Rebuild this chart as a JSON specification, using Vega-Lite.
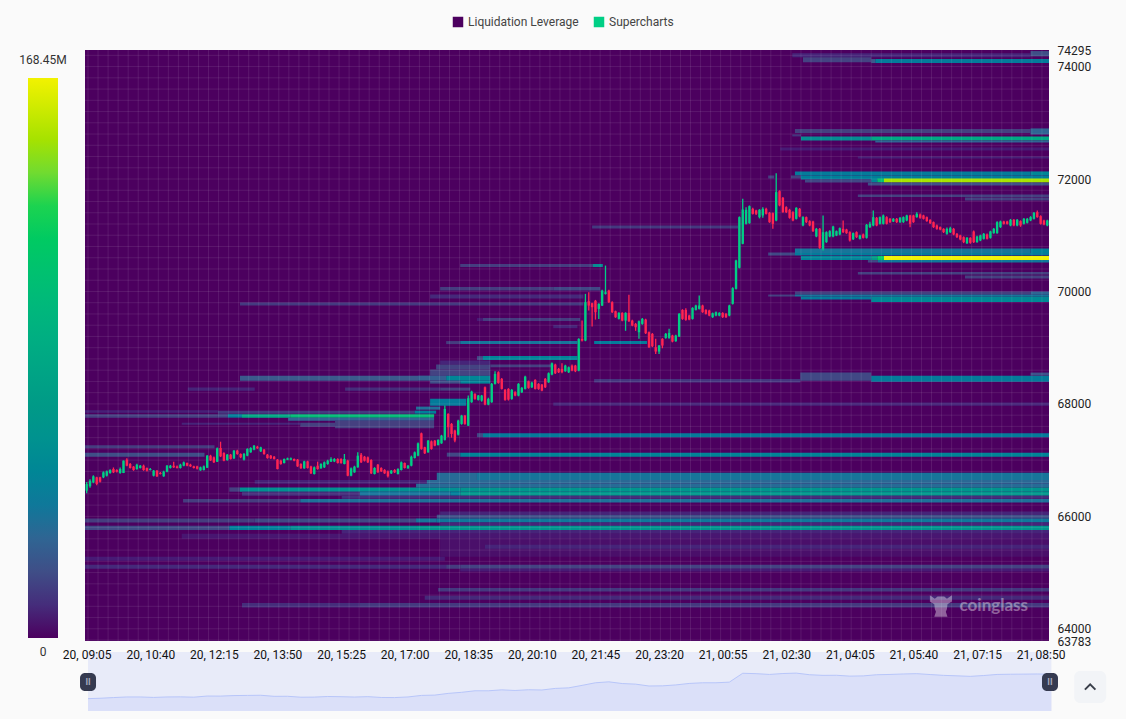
{"$schema":"https://vega.github.io/schema/vega-lite/v6.json","background":"#fafafa","padding":{"left":19,"top":16,"right":19,"bottom":8},"config":{"font":"Roboto","view":{"stroke":null}},"bounds":"flush","spacing":27,"resolve":{"scale":{"fill":"independent"},"legend":{"fill":"independent"}},
"hconcat":[
{"width":30,"height":591,"layer":[
{"data":{"values":[{"v":0,"w":0}]},"mark":{"type":"rect","strokeWidth":0},"encoding":{"y":{"field":"v","type":"quantitative","axis":null,"scale":{"domain":[-0.9,176.87],"nice":false,"zero":false}},"y2":{"field":"w"},
"fill":{"field":"v","type":"quantitative","scale":{"domain":[0,6,15,25,38,55,70,95,130,148,168.45],"range":["#4c005f","#471a75","#454080","#3b5a8c","#17759a","#058d92","#009a87","#0eb37f","#1cd350","#9ee000","#f2f200"]},"legend":{"orient":"none","legendX":0,"legendY":28,"direction":"vertical","title":null,"gradientLength":560,"gradientThickness":30,"gradientStrokeWidth":0,"labelOpacity":0,"labelFontSize":1,"tickCount":2}}}},
{"data":{"values":[{"v":168.45,"label":"168.45M"}]},"mark":{"type":"text","dy":-18,"fontSize":12,"color":"#333"},"encoding":{"y":{"field":"v","type":"quantitative"},"text":{"field":"label"}}},
{"data":{"values":[{"v":0,"label":"0"}]},"mark":{"type":"text","dy":14,"fontSize":12,"color":"#333"},"encoding":{"y":{"field":"v","type":"quantitative"},"text":{"field":"label"}}}
]},
{"bounds":"flush","spacing":11,"vconcat":[
{"width":964,"height":591,"layer":[
{"data":{"values":[{"series":"Liquidation Leverage","start":"20, 09:02","end":"21, 09:03"}],"format":{"parse":{"start":"date:'%d, %H:%M'","end":"date:'%d, %H:%M'"}}},
"mark":{"type":"rect","clip":true,"strokeWidth":0},
"encoding":{"x":{"field":"start","type":"temporal","axis":null,"scale":{"padding":0,"domain":[{"year":1900,"month":1,"date":20,"hours":9,"minutes":2,"seconds":30},{"year":1900,"month":1,"date":21,"hours":9,"minutes":2,"seconds":30}]}},"x2":{"field":"end"},
"color":{"field":"series","type":"nominal","scale":{"domain":["Liquidation Leverage","Supercharts","Decline"],"range":["#4c005f","#00cf85","#ff2452"]},"legend":{"orient":"none","legendX":424,"legendY":-34,"direction":"horizontal","columns":2,"title":null,"symbolType":"square","symbolSize":110,"symbolStrokeWidth":0,"labelFontSize":12,"labelColor":"#444","columnPadding":14,"values":["Liquidation Leverage","Supercharts"]}}}},
{"data":{"values":[
{"start":"21, 02:39","end":"21, 08:35","low":74164,"high":74235,"v":8},
{"start":"21, 08:35","end":"21, 09:03","low":74182,"high":74276,"v":20},
{"start":"21, 02:55","end":"21, 04:37","low":74075,"high":74164,"v":16},
{"start":"21, 04:37","end":"21, 04:43","low":74063,"high":74134,"v":25},
{"start":"21, 04:43","end":"21, 09:03","low":74063,"high":74134,"v":42},
{"start":"21, 02:43","end":"21, 08:35","low":72820,"high":72891,"v":15},
{"start":"21, 08:35","end":"21, 09:03","low":72793,"high":72900,"v":30},
{"start":"21, 02:39","end":"21, 02:52","low":72758,"high":72793,"v":12},
{"start":"21, 02:52","end":"21, 04:37","low":72686,"high":72758,"v":55},
{"start":"21, 04:37","end":"21, 09:03","low":72686,"high":72758,"v":85},
{"start":"21, 04:43","end":"21, 09:03","low":72651,"high":72686,"v":30},
{"start":"21, 02:21","end":"21, 09:03","low":72508,"high":72562,"v":6},
{"start":"21, 04:17","end":"21, 09:03","low":72366,"high":72402,"v":7},
{"start":"21, 02:43","end":"21, 08:35","low":72063,"high":72135,"v":42},
{"start":"21, 08:35","end":"21, 09:03","low":72063,"high":72135,"v":50},
{"start":"21, 02:03","end":"21, 02:12","low":72010,"high":72063,"v":15},
{"start":"21, 02:37","end":"21, 02:52","low":72010,"high":72063,"v":15},
{"start":"21, 02:52","end":"21, 09:03","low":71992,"high":72063,"v":45},
{"start":"21, 02:58","end":"21, 04:37","low":71939,"high":71992,"v":18},
{"start":"21, 04:37","end":"21, 04:46","low":71939,"high":72010,"v":50},
{"start":"21, 04:46","end":"21, 04:56","low":71939,"high":72010,"v":110},
{"start":"21, 04:56","end":"21, 09:03","low":71939,"high":72010,"v":150},
{"start":"21, 04:32","end":"21, 09:03","low":71885,"high":71939,"v":20},
{"start":"21, 04:17","end":"21, 09:03","low":71681,"high":71725,"v":15},
{"start":"21, 06:57","end":"21, 09:03","low":71618,"high":71672,"v":15},
{"start":"20, 21:40","end":"21, 01:18","low":71120,"high":71173,"v":13},
{"start":"21, 02:43","end":"21, 08:35","low":70684,"high":70764,"v":38},
{"start":"21, 08:35","end":"21, 09:03","low":70684,"high":70764,"v":45},
{"start":"21, 02:03","end":"21, 02:43","low":70639,"high":70693,"v":18},
{"start":"21, 02:43","end":"21, 09:03","low":70639,"high":70684,"v":42},
{"start":"21, 02:52","end":"21, 04:37","low":70559,"high":70631,"v":48},
{"start":"21, 04:37","end":"21, 04:46","low":70559,"high":70631,"v":70},
{"start":"21, 04:46","end":"21, 04:56","low":70559,"high":70631,"v":120},
{"start":"21, 04:56","end":"21, 09:03","low":70559,"high":70631,"v":168},
{"start":"21, 04:32","end":"21, 04:47","low":70515,"high":70559,"v":18},
{"start":"21, 04:47","end":"21, 09:03","low":70515,"high":70559,"v":40},
{"start":"20, 18:23","end":"20, 21:41","low":70435,"high":70488,"v":14},
{"start":"20, 21:41","end":"20, 21:56","low":70435,"high":70488,"v":55},
{"start":"21, 04:17","end":"21, 09:03","low":70301,"high":70346,"v":15},
{"start":"21, 06:57","end":"21, 09:03","low":70230,"high":70283,"v":15},
{"start":"20, 17:53","end":"20, 20:42","low":70016,"high":70079,"v":14},
{"start":"20, 20:42","end":"20, 21:52","low":70016,"high":70079,"v":18},
{"start":"21, 02:43","end":"21, 08:35","low":69945,"high":69999,"v":15},
{"start":"21, 08:35","end":"21, 09:03","low":69945,"high":69999,"v":30},
{"start":"21, 02:03","end":"21, 02:43","low":69910,"high":69945,"v":15},
{"start":"21, 02:43","end":"21, 09:03","low":69910,"high":69945,"v":38},
{"start":"21, 02:52","end":"21, 04:37","low":69856,"high":69910,"v":42},
{"start":"21, 04:37","end":"21, 09:03","low":69812,"high":69910,"v":52},
{"start":"20, 17:38","end":"20, 21:27","low":69874,"high":69945,"v":9},
{"start":"20, 12:54","end":"20, 21:27","low":69749,"high":69803,"v":13},
{"start":"20, 18:48","end":"20, 18:57","low":69474,"high":69527,"v":6},
{"start":"20, 18:57","end":"20, 21:22","low":69474,"high":69527,"v":14},
{"start":"20, 20:42","end":"20, 21:18","low":69348,"high":69402,"v":8},
{"start":"20, 18:02","end":"20, 18:23","low":69064,"high":69118,"v":14},
{"start":"20, 18:23","end":"20, 21:18","low":69064,"high":69118,"v":38},
{"start":"20, 21:43","end":"20, 23:02","low":69064,"high":69118,"v":42},
{"start":"20, 18:48","end":"20, 18:57","low":68779,"high":68851,"v":18},
{"start":"20, 18:57","end":"20, 21:18","low":68779,"high":68851,"v":48},
{"start":"20, 17:53","end":"20, 19:08","low":68699,"high":68770,"v":8},
{"start":"20, 17:47","end":"20, 19:08","low":68610,"high":68699,"v":16},
{"start":"20, 19:08","end":"20, 20:42","low":68654,"high":68699,"v":15},
{"start":"20, 17:38","end":"20, 19:08","low":68503,"high":68610,"v":16},
{"start":"20, 12:54","end":"20, 17:20","low":68414,"high":68503,"v":25},
{"start":"20, 17:20","end":"20, 18:02","low":68414,"high":68503,"v":28},
{"start":"20, 18:02","end":"20, 19:08","low":68414,"high":68503,"v":50},
{"start":"20, 17:38","end":"20, 18:23","low":68361,"high":68414,"v":20},
{"start":"20, 18:23","end":"20, 19:08","low":68361,"high":68414,"v":48},
{"start":"20, 21:43","end":"21, 02:51","low":68379,"high":68441,"v":12},
{"start":"21, 02:51","end":"21, 04:37","low":68414,"high":68557,"v":18},
{"start":"21, 04:37","end":"21, 09:03","low":68396,"high":68503,"v":42},
{"start":"21, 08:35","end":"21, 09:03","low":68503,"high":68557,"v":22},
{"start":"20, 11:36","end":"20, 13:16","low":68236,"high":68290,"v":8},
{"start":"20, 15:31","end":"20, 17:53","low":68236,"high":68290,"v":10},
{"start":"20, 17:53","end":"20, 18:38","low":68236,"high":68290,"v":15},
{"start":"20, 17:38","end":"20, 18:32","low":67969,"high":68094,"v":42},
{"start":"20, 17:17","end":"20, 17:53","low":67898,"high":67952,"v":35},
{"start":"20, 20:42","end":"21, 09:03","low":67969,"high":68023,"v":8},
{"start":"20, 09:02","end":"20, 12:21","low":67845,"high":67889,"v":7},
{"start":"20, 12:21","end":"20, 17:15","low":67827,"high":67880,"v":13},
{"start":"20, 17:15","end":"20, 17:47","low":67827,"high":67880,"v":45},
{"start":"20, 09:02","end":"20, 12:21","low":67756,"high":67818,"v":15},
{"start":"20, 12:21","end":"20, 12:36","low":67756,"high":67818,"v":18},
{"start":"20, 12:36","end":"20, 12:57","low":67756,"high":67818,"v":45},
{"start":"20, 12:57","end":"20, 14:09","low":67756,"high":67818,"v":85},
{"start":"20, 14:09","end":"20, 17:44","low":67756,"high":67818,"v":105},
{"start":"20, 14:06","end":"20, 17:44","low":67702,"high":67756,"v":30},
{"start":"20, 11:27","end":"20, 14:24","low":67631,"high":67667,"v":8},
{"start":"20, 14:24","end":"20, 15:16","low":67596,"high":67667,"v":15},
{"start":"20, 15:16","end":"20, 17:44","low":67569,"high":67702,"v":15},
{"start":"20, 18:48","end":"20, 18:57","low":67409,"high":67480,"v":18},
{"start":"20, 18:57","end":"21, 09:03","low":67409,"high":67480,"v":42},
{"start":"20, 09:02","end":"20, 12:16","low":67213,"high":67266,"v":14},
{"start":"20, 09:02","end":"20, 12:01","low":67062,"high":67133,"v":20},
{"start":"20, 18:03","end":"20, 18:23","low":67062,"high":67133,"v":18},
{"start":"20, 18:23","end":"21, 09:03","low":67062,"high":67133,"v":48},
{"start":"20, 17:48","end":"20, 18:48","low":66647,"high":66777,"v":33},
{"start":"20, 18:48","end":"21, 09:03","low":66647,"high":66777,"v":38},
{"start":"20, 13:16","end":"20, 17:33","low":66581,"high":66647,"v":7},
{"start":"20, 17:33","end":"21, 09:03","low":66581,"high":66647,"v":32},
{"start":"20, 17:17","end":"21, 09:03","low":66515,"high":66581,"v":33},
{"start":"20, 12:38","end":"20, 12:54","low":66439,"high":66515,"v":15},
{"start":"20, 12:54","end":"20, 18:23","low":66439,"high":66515,"v":58},
{"start":"20, 18:23","end":"21, 09:03","low":66439,"high":66515,"v":64},
{"start":"20, 12:57","end":"20, 15:53","low":66367,"high":66439,"v":10},
{"start":"20, 15:53","end":"20, 18:08","low":66367,"high":66439,"v":38},
{"start":"20, 18:08","end":"20, 18:23","low":66367,"high":66439,"v":45},
{"start":"20, 18:23","end":"21, 09:03","low":66367,"high":66439,"v":66},
{"start":"20, 15:26","end":"21, 09:03","low":66314,"high":66367,"v":10},
{"start":"20, 11:29","end":"20, 14:24","low":66248,"high":66309,"v":14},
{"start":"20, 14:24","end":"21, 09:03","low":66248,"high":66309,"v":36},
{"start":"20, 17:53","end":"21, 09:03","low":66029,"high":66088,"v":8},
{"start":"20, 17:48","end":"21, 09:03","low":65963,"high":66029,"v":20},
{"start":"20, 09:02","end":"20, 13:16","low":65892,"high":65963,"v":14},
{"start":"20, 13:16","end":"20, 17:17","low":65892,"high":65963,"v":18},
{"start":"20, 17:17","end":"20, 17:48","low":65892,"high":65963,"v":38},
{"start":"20, 17:48","end":"21, 09:03","low":65892,"high":65963,"v":40},
{"start":"20, 17:53","end":"21, 09:03","low":65833,"high":65892,"v":8},
{"start":"20, 09:02","end":"20, 12:38","low":65757,"high":65833,"v":18},
{"start":"20, 12:38","end":"20, 14:09","low":65757,"high":65833,"v":45},
{"start":"20, 14:09","end":"20, 17:17","low":65757,"high":65833,"v":55},
{"start":"20, 17:17","end":"21, 09:03","low":65757,"high":65833,"v":63},
{"start":"20, 15:26","end":"21, 09:03","low":65691,"high":65757,"v":8},
{"start":"20, 11:27","end":"21, 09:03","low":65602,"high":65691,"v":5},
{"start":"20, 17:53","end":"21, 09:03","low":65282,"high":65602,"v":3},
{"start":"20, 19:00","end":"21, 09:03","low":65424,"high":65495,"v":8},
{"start":"20, 09:02","end":"20, 18:00","low":65210,"high":65282,"v":6},
{"start":"20, 09:02","end":"20, 18:02","low":65068,"high":65139,"v":9},
{"start":"20, 18:02","end":"20, 18:23","low":65068,"high":65139,"v":14},
{"start":"20, 18:23","end":"21, 09:03","low":65068,"high":65139,"v":16},
{"start":"20, 18:23","end":"21, 09:03","low":65020,"high":65068,"v":6},
{"start":"20, 17:50","end":"21, 09:03","low":64664,"high":64724,"v":13},
{"start":"20, 17:30","end":"21, 09:03","low":64516,"high":64587,"v":9},
{"start":"20, 12:57","end":"20, 15:53","low":64379,"high":64457,"v":10},
{"start":"20, 15:53","end":"21, 09:03","low":64379,"high":64457,"v":13}
],"format":{"parse":{"start":"date:'%d, %H:%M'","end":"date:'%d, %H:%M'"}}},
"mark":{"type":"rect","clip":true,"strokeWidth":0},
"encoding":{"x":{"field":"start","type":"temporal"},"x2":{"field":"end"},
"y":{"field":"low","type":"quantitative","scale":{"domain":[63783,74295],"nice":false,"zero":false},"axis":{"orient":"right","title":null,"values":[63783,64000,66000,68000,70000,72000,74000,74295],"format":"d","ticks":false,"domain":false,"grid":false,"labelFontSize":12,"labelColor":"#222","labelPadding":8,"labelOverlap":false,"labelBound":false}},"y2":{"field":"high"},
"fill":{"field":"v","type":"quantitative","legend":null,"scale":{"domain":[0,6,15,25,38,55,70,95,130,148,168.45],"range":["#4c005f","#471a75","#454080","#3b5a8c","#17759a","#058d92","#009a87","#0eb37f","#1cd350","#9ee000","#f2f200"]}}}},
{"data":{"values":[{"p":63800},{"p":64000},{"p":64200},{"p":64400},{"p":64600},{"p":64800},{"p":65000},{"p":65200},{"p":65400},{"p":65600},{"p":65800},{"p":66000},{"p":66200},{"p":66400},{"p":66600},{"p":66800},{"p":67000},{"p":67200},{"p":67400},{"p":67600},{"p":67800},{"p":68000},{"p":68200},{"p":68400},{"p":68600},{"p":68800},{"p":69000},{"p":69200},{"p":69400},{"p":69600},{"p":69800},{"p":70000},{"p":70200},{"p":70400},{"p":70600},{"p":70800},{"p":71000},{"p":71200},{"p":71400},{"p":71600},{"p":71800},{"p":72000},{"p":72200},{"p":72400},{"p":72600},{"p":72800},{"p":73000},{"p":73200},{"p":73400},{"p":73600},{"p":73800},{"p":74000},{"p":74200}]},
"mark":{"type":"rule","color":"#ffffff","opacity":0.09,"strokeWidth":1},"encoding":{"y":{"field":"p","type":"quantitative"}}},
{"data":{"values":[{"t":"20, 09:07"},{"t":"20, 09:22"},{"t":"20, 09:37"},{"t":"20, 09:52"},{"t":"20, 10:07"},{"t":"20, 10:22"},{"t":"20, 10:37"},{"t":"20, 10:52"},{"t":"20, 11:07"},{"t":"20, 11:22"},{"t":"20, 11:37"},{"t":"20, 11:52"},{"t":"20, 12:07"},{"t":"20, 12:22"},{"t":"20, 12:37"},{"t":"20, 12:52"},{"t":"20, 13:07"},{"t":"20, 13:22"},{"t":"20, 13:37"},{"t":"20, 13:52"},{"t":"20, 14:07"},{"t":"20, 14:22"},{"t":"20, 14:37"},{"t":"20, 14:52"},{"t":"20, 15:07"},{"t":"20, 15:22"},{"t":"20, 15:37"},{"t":"20, 15:52"},{"t":"20, 16:07"},{"t":"20, 16:22"},{"t":"20, 16:37"},{"t":"20, 16:52"},{"t":"20, 17:07"},{"t":"20, 17:22"},{"t":"20, 17:37"},{"t":"20, 17:52"},{"t":"20, 18:07"},{"t":"20, 18:22"},{"t":"20, 18:37"},{"t":"20, 18:52"},{"t":"20, 19:07"},{"t":"20, 19:22"},{"t":"20, 19:37"},{"t":"20, 19:52"},{"t":"20, 20:07"},{"t":"20, 20:22"},{"t":"20, 20:37"},{"t":"20, 20:52"},{"t":"20, 21:07"},{"t":"20, 21:22"},{"t":"20, 21:37"},{"t":"20, 21:52"},{"t":"20, 22:07"},{"t":"20, 22:22"},{"t":"20, 22:37"},{"t":"20, 22:52"},{"t":"20, 23:07"},{"t":"20, 23:22"},{"t":"20, 23:37"},{"t":"20, 23:52"},{"t":"21, 00:07"},{"t":"21, 00:22"},{"t":"21, 00:37"},{"t":"21, 00:52"},{"t":"21, 01:07"},{"t":"21, 01:22"},{"t":"21, 01:37"},{"t":"21, 01:52"},{"t":"21, 02:07"},{"t":"21, 02:22"},{"t":"21, 02:37"},{"t":"21, 02:52"},{"t":"21, 03:07"},{"t":"21, 03:22"},{"t":"21, 03:37"},{"t":"21, 03:52"},{"t":"21, 04:07"},{"t":"21, 04:22"},{"t":"21, 04:37"},{"t":"21, 04:52"},{"t":"21, 05:07"},{"t":"21, 05:22"},{"t":"21, 05:37"},{"t":"21, 05:52"},{"t":"21, 06:07"},{"t":"21, 06:22"},{"t":"21, 06:37"},{"t":"21, 06:52"},{"t":"21, 07:07"},{"t":"21, 07:22"},{"t":"21, 07:37"},{"t":"21, 07:52"},{"t":"21, 08:07"},{"t":"21, 08:22"},{"t":"21, 08:37"},{"t":"21, 08:52"}],"format":{"parse":{"t":"date:'%d, %H:%M'"}}},
"mark":{"type":"rule","color":"#ffffff","opacity":0.09,"strokeWidth":1},"encoding":{"x":{"field":"t","type":"temporal"}}},
{"data":{"values":[
{"t":"20, 09:05","o":66457,"h":66610,"l":66410,"c":66575,"s":"Supercharts"},
{"t":"20, 09:10","o":66534,"h":66660,"l":66510,"c":66634,"s":"Supercharts"},
{"t":"20, 09:15","o":66605,"h":66730,"l":66590,"c":66712,"s":"Supercharts"},
{"t":"20, 09:20","o":66694,"h":66705,"l":66555,"c":66575,"s":"Decline"},
{"t":"20, 09:25","o":66694,"h":66705,"l":66600,"c":66616,"s":"Decline"},
{"t":"20, 09:30","o":66694,"h":66800,"l":66680,"c":66783,"s":"Supercharts"},
{"t":"20, 09:35","o":66723,"h":66815,"l":66710,"c":66800,"s":"Supercharts"},
{"t":"20, 09:40","o":66771,"h":66840,"l":66760,"c":66824,"s":"Supercharts"},
{"t":"20, 09:45","o":66842,"h":66870,"l":66770,"c":66783,"s":"Decline"},
{"t":"20, 09:50","o":66824,"h":66840,"l":66780,"c":66795,"s":"Decline"},
{"t":"20, 09:55","o":66771,"h":66870,"l":66760,"c":66842,"s":"Supercharts"},
{"t":"20, 10:00","o":66771,"h":66995,"l":66770,"c":66990,"s":"Supercharts"},
{"t":"20, 10:05","o":67008,"h":67035,"l":66890,"c":66901,"s":"Decline"},
{"t":"20, 10:10","o":66931,"h":66950,"l":66850,"c":66860,"s":"Decline"},
{"t":"20, 10:15","o":66884,"h":66895,"l":66810,"c":66824,"s":"Decline"},
{"t":"20, 10:20","o":66842,"h":66935,"l":66830,"c":66919,"s":"Supercharts"},
{"t":"20, 10:25","o":66860,"h":66915,"l":66850,"c":66901,"s":"Supercharts"},
{"t":"20, 10:30","o":66901,"h":66920,"l":66810,"c":66824,"s":"Decline"},
{"t":"20, 10:35","o":66860,"h":66870,"l":66800,"c":66812,"s":"Decline"},
{"t":"20, 10:40","o":66824,"h":66860,"l":66815,"c":66842,"s":"Supercharts"},
{"t":"20, 10:45","o":66723,"h":66825,"l":66710,"c":66812,"s":"Supercharts"},
{"t":"20, 10:50","o":66812,"h":66825,"l":66700,"c":66712,"s":"Decline"},
{"t":"20, 10:55","o":66771,"h":66790,"l":66745,"c":66753,"s":"Decline"},
{"t":"20, 11:00","o":66712,"h":66810,"l":66705,"c":66795,"s":"Supercharts"},
{"t":"20, 11:05","o":66795,"h":66915,"l":66785,"c":66901,"s":"Supercharts"},
{"t":"20, 11:10","o":66860,"h":66915,"l":66850,"c":66901,"s":"Supercharts"},
{"t":"20, 11:15","o":66901,"h":66972,"l":66860,"c":66872,"s":"Decline"},
{"t":"20, 11:20","o":66889,"h":66905,"l":66850,"c":66860,"s":"Decline"},
{"t":"20, 11:25","o":66860,"h":66935,"l":66850,"c":66919,"s":"Supercharts"},
{"t":"20, 11:30","o":66901,"h":66975,"l":66890,"c":66961,"s":"Supercharts"},
{"t":"20, 11:35","o":66949,"h":66960,"l":66890,"c":66901,"s":"Decline"},
{"t":"20, 11:40","o":66919,"h":66935,"l":66880,"c":66889,"s":"Decline"},
{"t":"20, 11:45","o":66889,"h":66900,"l":66850,"c":66860,"s":"Decline"},
{"t":"20, 11:50","o":66889,"h":66900,"l":66835,"c":66848,"s":"Decline"},
{"t":"20, 11:55","o":66818,"h":66885,"l":66810,"c":66872,"s":"Supercharts"},
{"t":"20, 12:00","o":66824,"h":66905,"l":66815,"c":66889,"s":"Supercharts"},
{"t":"20, 12:05","o":66865,"h":67090,"l":66860,"c":67079,"s":"Supercharts"},
{"t":"20, 12:10","o":67079,"h":67095,"l":66985,"c":66996,"s":"Decline"},
{"t":"20, 12:15","o":67050,"h":67065,"l":66950,"c":66961,"s":"Decline"},
{"t":"20, 12:20","o":66972,"h":67225,"l":66965,"c":67210,"s":"Supercharts"},
{"t":"20, 12:25","o":67216,"h":67328,"l":67055,"c":67067,"s":"Decline"},
{"t":"20, 12:30","o":67127,"h":67140,"l":66980,"c":66990,"s":"Decline"},
{"t":"20, 12:35","o":67002,"h":67110,"l":66990,"c":67097,"s":"Supercharts"},
{"t":"20, 12:40","o":67097,"h":67110,"l":67010,"c":67020,"s":"Decline"},
{"t":"20, 12:45","o":67032,"h":67180,"l":67020,"c":67168,"s":"Supercharts"},
{"t":"20, 12:50","o":67168,"h":67185,"l":67095,"c":67109,"s":"Decline"},
{"t":"20, 12:55","o":67109,"h":67120,"l":67035,"c":67050,"s":"Decline"},
{"t":"20, 13:00","o":67008,"h":67125,"l":66995,"c":67109,"s":"Supercharts"},
{"t":"20, 13:05","o":67079,"h":67210,"l":67070,"c":67198,"s":"Supercharts"},
{"t":"20, 13:10","o":67139,"h":67230,"l":67130,"c":67216,"s":"Supercharts"},
{"t":"20, 13:15","o":67186,"h":67270,"l":67175,"c":67257,"s":"Supercharts"},
{"t":"20, 13:20","o":67239,"h":67255,"l":67200,"c":67210,"s":"Decline"},
{"t":"20, 13:25","o":67156,"h":67240,"l":67145,"c":67227,"s":"Supercharts"},
{"t":"20, 13:30","o":67186,"h":67200,"l":67095,"c":67109,"s":"Decline"},
{"t":"20, 13:35","o":67097,"h":67110,"l":67025,"c":67038,"s":"Decline"},
{"t":"20, 13:40","o":67079,"h":67090,"l":67020,"c":67032,"s":"Decline"},
{"t":"20, 13:45","o":67061,"h":67075,"l":67010,"c":67020,"s":"Decline"},
{"t":"20, 13:50","o":67008,"h":67020,"l":66835,"c":66842,"s":"Decline"},
{"t":"20, 13:55","o":66990,"h":67005,"l":66920,"c":66931,"s":"Decline"},
{"t":"20, 14:00","o":66949,"h":67030,"l":66940,"c":67020,"s":"Supercharts"},
{"t":"20, 14:05","o":67008,"h":67045,"l":67000,"c":67032,"s":"Supercharts"},
{"t":"20, 14:10","o":67008,"h":67045,"l":67000,"c":67032,"s":"Supercharts"},
{"t":"20, 14:15","o":67020,"h":67030,"l":66980,"c":66990,"s":"Decline"},
{"t":"20, 14:20","o":67008,"h":67020,"l":66880,"c":66889,"s":"Decline"},
{"t":"20, 14:25","o":66931,"h":66945,"l":66845,"c":66854,"s":"Decline"},
{"t":"20, 14:30","o":66854,"h":66990,"l":66845,"c":66978,"s":"Supercharts"},
{"t":"20, 14:35","o":66978,"h":66990,"l":66850,"c":66860,"s":"Decline"},
{"t":"20, 14:40","o":66889,"h":66900,"l":66755,"c":66765,"s":"Decline"},
{"t":"20, 14:45","o":66753,"h":66885,"l":66745,"c":66872,"s":"Supercharts"},
{"t":"20, 14:50","o":66901,"h":66973,"l":66830,"c":66842,"s":"Decline"},
{"t":"20, 14:55","o":66854,"h":66945,"l":66845,"c":66931,"s":"Supercharts"},
{"t":"20, 15:00","o":66872,"h":66975,"l":66860,"c":66961,"s":"Supercharts"},
{"t":"20, 15:05","o":66931,"h":67005,"l":66920,"c":66990,"s":"Supercharts"},
{"t":"20, 15:10","o":66973,"h":67050,"l":66965,"c":67020,"s":"Supercharts"},
{"t":"20, 15:15","o":66978,"h":67035,"l":66965,"c":67020,"s":"Supercharts"},
{"t":"20, 15:20","o":67020,"h":67032,"l":66940,"c":66949,"s":"Decline"},
{"t":"20, 15:25","o":67020,"h":67032,"l":66935,"c":66949,"s":"Decline"},
{"t":"20, 15:30","o":66931,"h":67109,"l":66925,"c":67020,"s":"Supercharts"},
{"t":"20, 15:35","o":66990,"h":67005,"l":66712,"c":66723,"s":"Decline"},
{"t":"20, 15:40","o":66723,"h":66870,"l":66712,"c":66854,"s":"Supercharts"},
{"t":"20, 15:45","o":66783,"h":66900,"l":66775,"c":66884,"s":"Supercharts"},
{"t":"20, 15:50","o":66872,"h":67139,"l":66865,"c":67079,"s":"Supercharts"},
{"t":"20, 15:55","o":67097,"h":67125,"l":66950,"c":66961,"s":"Decline"},
{"t":"20, 16:00","o":67061,"h":67075,"l":66975,"c":66990,"s":"Decline"},
{"t":"20, 16:05","o":67050,"h":67065,"l":66950,"c":66961,"s":"Decline"},
{"t":"20, 16:10","o":67002,"h":67015,"l":66755,"c":66765,"s":"Decline"},
{"t":"20, 16:15","o":66753,"h":66875,"l":66745,"c":66860,"s":"Supercharts"},
{"t":"20, 16:20","o":66919,"h":66930,"l":66775,"c":66783,"s":"Decline"},
{"t":"20, 16:25","o":66860,"h":66875,"l":66790,"c":66801,"s":"Decline"},
{"t":"20, 16:30","o":66824,"h":66840,"l":66755,"c":66765,"s":"Decline"},
{"t":"20, 16:35","o":66801,"h":66815,"l":66690,"c":66712,"s":"Decline"},
{"t":"20, 16:40","o":66765,"h":66825,"l":66755,"c":66812,"s":"Supercharts"},
{"t":"20, 16:45","o":66824,"h":66840,"l":66770,"c":66783,"s":"Decline"},
{"t":"20, 16:50","o":66753,"h":66855,"l":66745,"c":66842,"s":"Supercharts"},
{"t":"20, 16:55","o":66824,"h":66975,"l":66815,"c":66961,"s":"Supercharts"},
{"t":"20, 17:00","o":66949,"h":66960,"l":66850,"c":66860,"s":"Decline"},
{"t":"20, 17:05","o":66854,"h":66915,"l":66845,"c":66901,"s":"Supercharts"},
{"t":"20, 17:10","o":66901,"h":67080,"l":66890,"c":67061,"s":"Supercharts"},
{"t":"20, 17:15","o":67038,"h":67155,"l":67030,"c":67139,"s":"Supercharts"},
{"t":"20, 17:20","o":67079,"h":67315,"l":67070,"c":67299,"s":"Supercharts"},
{"t":"20, 17:25","o":67477,"h":67490,"l":67185,"c":67198,"s":"Decline"},
{"t":"20, 17:30","o":67228,"h":67240,"l":67110,"c":67121,"s":"Decline"},
{"t":"20, 17:35","o":67139,"h":67360,"l":67130,"c":67346,"s":"Supercharts"},
{"t":"20, 17:40","o":67334,"h":67350,"l":67185,"c":67198,"s":"Decline"},
{"t":"20, 17:45","o":67346,"h":67360,"l":67245,"c":67257,"s":"Decline"},
{"t":"20, 17:50","o":67269,"h":67370,"l":67260,"c":67358,"s":"Supercharts"},
{"t":"20, 17:55","o":67299,"h":67450,"l":67290,"c":67435,"s":"Supercharts"},
{"t":"20, 18:00","o":67360,"h":67970,"l":67350,"c":67911,"s":"Supercharts"},
{"t":"20, 18:05","o":67822,"h":67835,"l":67407,"c":67585,"s":"Decline"},
{"t":"20, 18:10","o":67644,"h":67660,"l":67400,"c":67466,"s":"Decline"},
{"t":"20, 18:15","o":67526,"h":67540,"l":67320,"c":67348,"s":"Decline"},
{"t":"20, 18:20","o":67454,"h":67720,"l":67440,"c":67703,"s":"Supercharts"},
{"t":"20, 18:25","o":67644,"h":67805,"l":67630,"c":67792,"s":"Supercharts"},
{"t":"20, 18:30","o":67792,"h":67805,"l":67630,"c":67644,"s":"Decline"},
{"t":"20, 18:35","o":67614,"h":68150,"l":67605,"c":68101,"s":"Supercharts"},
{"t":"20, 18:40","o":68030,"h":68235,"l":68020,"c":68219,"s":"Supercharts"},
{"t":"20, 18:45","o":68178,"h":68190,"l":68075,"c":68089,"s":"Decline"},
{"t":"20, 18:50","o":68071,"h":68160,"l":68060,"c":68148,"s":"Supercharts"},
{"t":"20, 18:55","o":68059,"h":68160,"l":68040,"c":68148,"s":"Supercharts"},
{"t":"20, 19:00","o":68296,"h":68310,"l":67975,"c":67988,"s":"Decline"},
{"t":"20, 19:05","o":67988,"h":68110,"l":67975,"c":68089,"s":"Supercharts"},
{"t":"20, 19:10","o":68030,"h":68370,"l":68020,"c":68356,"s":"Supercharts"},
{"t":"20, 19:15","o":68356,"h":68580,"l":68345,"c":68534,"s":"Supercharts"},
{"t":"20, 19:20","o":68563,"h":68580,"l":68360,"c":68374,"s":"Decline"},
{"t":"20, 19:25","o":68445,"h":68460,"l":68255,"c":68267,"s":"Decline"},
{"t":"20, 19:30","o":68249,"h":68265,"l":68055,"c":68071,"s":"Decline"},
{"t":"20, 19:35","o":68267,"h":68280,"l":68060,"c":68077,"s":"Decline"},
{"t":"20, 19:40","o":68089,"h":68265,"l":68075,"c":68249,"s":"Supercharts"},
{"t":"20, 19:45","o":68207,"h":68225,"l":68135,"c":68148,"s":"Decline"},
{"t":"20, 19:50","o":68148,"h":68370,"l":68135,"c":68356,"s":"Supercharts"},
{"t":"20, 19:55","o":68207,"h":68300,"l":68195,"c":68285,"s":"Supercharts"},
{"t":"20, 20:00","o":68267,"h":68500,"l":68255,"c":68486,"s":"Supercharts"},
{"t":"20, 20:05","o":68403,"h":68415,"l":68270,"c":68285,"s":"Decline"},
{"t":"20, 20:10","o":68296,"h":68395,"l":68285,"c":68379,"s":"Supercharts"},
{"t":"20, 20:15","o":68427,"h":68440,"l":68255,"c":68267,"s":"Decline"},
{"t":"20, 20:20","o":68356,"h":68370,"l":68250,"c":68267,"s":"Decline"},
{"t":"20, 20:25","o":68344,"h":68355,"l":68225,"c":68237,"s":"Decline"},
{"t":"20, 20:30","o":68445,"h":68460,"l":68285,"c":68296,"s":"Decline"},
{"t":"20, 20:35","o":68385,"h":68560,"l":68375,"c":68545,"s":"Supercharts"},
{"t":"20, 20:40","o":68522,"h":68735,"l":68510,"c":68723,"s":"Supercharts"},
{"t":"20, 20:45","o":68700,"h":68715,"l":68530,"c":68545,"s":"Decline"},
{"t":"20, 20:50","o":68623,"h":68640,"l":68550,"c":68563,"s":"Decline"},
{"t":"20, 20:55","o":68623,"h":68723,"l":68545,"c":68563,"s":"Decline"},
{"t":"20, 21:00","o":68581,"h":68695,"l":68570,"c":68682,"s":"Supercharts"},
{"t":"20, 21:05","o":68563,"h":68665,"l":68550,"c":68652,"s":"Supercharts"},
{"t":"20, 21:10","o":68682,"h":68700,"l":68580,"c":68593,"s":"Decline"},
{"t":"20, 21:15","o":68682,"h":68695,"l":68565,"c":68581,"s":"Decline"},
{"t":"20, 21:20","o":68593,"h":69170,"l":68580,"c":69156,"s":"Supercharts"},
{"t":"20, 21:25","o":69156,"h":69482,"l":69110,"c":69127,"s":"Decline"},
{"t":"20, 21:30","o":69127,"h":69957,"l":69115,"c":69809,"s":"Supercharts"},
{"t":"20, 21:35","o":69826,"h":69985,"l":69660,"c":69749,"s":"Decline"},
{"t":"20, 21:40","o":69791,"h":69800,"l":69375,"c":69720,"s":"Decline"},
{"t":"20, 21:45","o":69835,"h":69850,"l":69500,"c":69631,"s":"Decline"},
{"t":"20, 21:50","o":69690,"h":69790,"l":69512,"c":69779,"s":"Supercharts"},
{"t":"20, 21:55","o":69749,"h":70030,"l":69740,"c":70016,"s":"Supercharts"},
{"t":"20, 22:00","o":69957,"h":70461,"l":69945,"c":69986,"s":"Supercharts"},
{"t":"20, 22:05","o":70016,"h":70030,"l":69795,"c":69809,"s":"Decline"},
{"t":"20, 22:10","o":69809,"h":69825,"l":69615,"c":69631,"s":"Decline"},
{"t":"20, 22:15","o":69649,"h":69660,"l":69530,"c":69542,"s":"Decline"},
{"t":"20, 22:20","o":69512,"h":69630,"l":69500,"c":69619,"s":"Supercharts"},
{"t":"20, 22:25","o":69619,"h":69630,"l":69470,"c":69482,"s":"Decline"},
{"t":"20, 22:30","o":69482,"h":69630,"l":69300,"c":69619,"s":"Supercharts"},
{"t":"20, 22:35","o":69619,"h":69940,"l":69455,"c":69471,"s":"Decline"},
{"t":"20, 22:40","o":69482,"h":69495,"l":69380,"c":69393,"s":"Decline"},
{"t":"20, 22:45","o":69423,"h":69440,"l":69300,"c":69364,"s":"Decline"},
{"t":"20, 22:50","o":69275,"h":69485,"l":69160,"c":69471,"s":"Supercharts"},
{"t":"20, 22:55","o":69424,"h":69530,"l":69410,"c":69512,"s":"Supercharts"},
{"t":"20, 23:00","o":69500,"h":69515,"l":69245,"c":69257,"s":"Decline"},
{"t":"20, 23:05","o":69275,"h":69290,"l":68995,"c":69008,"s":"Decline"},
{"t":"20, 23:10","o":69246,"h":69260,"l":69010,"c":69026,"s":"Decline"},
{"t":"20, 23:15","o":69008,"h":69157,"l":68890,"c":68931,"s":"Decline"},
{"t":"20, 23:20","o":68931,"h":69050,"l":68890,"c":69038,"s":"Supercharts"},
{"t":"20, 23:25","o":69157,"h":69170,"l":68990,"c":69038,"s":"Decline"},
{"t":"20, 23:30","o":69174,"h":69260,"l":69160,"c":69246,"s":"Supercharts"},
{"t":"20, 23:35","o":69174,"h":69335,"l":69160,"c":69263,"s":"Supercharts"},
{"t":"20, 23:40","o":69216,"h":69230,"l":69095,"c":69109,"s":"Decline"},
{"t":"20, 23:45","o":69115,"h":69230,"l":69105,"c":69216,"s":"Supercharts"},
{"t":"20, 23:50","o":69198,"h":69615,"l":69190,"c":69601,"s":"Supercharts"},
{"t":"20, 23:55","o":69672,"h":69685,"l":69495,"c":69512,"s":"Decline"},
{"t":"21, 00:00","o":69672,"h":69700,"l":69480,"c":69495,"s":"Decline"},
{"t":"21, 00:05","o":69572,"h":69585,"l":69490,"c":69500,"s":"Decline"},
{"t":"21, 00:10","o":69512,"h":69720,"l":69500,"c":69708,"s":"Supercharts"},
{"t":"21, 00:15","o":69672,"h":69765,"l":69660,"c":69750,"s":"Supercharts"},
{"t":"21, 00:20","o":69690,"h":69927,"l":69680,"c":69750,"s":"Supercharts"},
{"t":"21, 00:25","o":69750,"h":69765,"l":69620,"c":69631,"s":"Decline"},
{"t":"21, 00:30","o":69672,"h":69685,"l":69590,"c":69601,"s":"Decline"},
{"t":"21, 00:35","o":69661,"h":69675,"l":69560,"c":69572,"s":"Decline"},
{"t":"21, 00:40","o":69542,"h":69625,"l":69530,"c":69613,"s":"Supercharts"},
{"t":"21, 00:45","o":69572,"h":69645,"l":69560,"c":69631,"s":"Supercharts"},
{"t":"21, 00:50","o":69572,"h":69630,"l":69560,"c":69619,"s":"Supercharts"},
{"t":"21, 00:55","o":69619,"h":69630,"l":69530,"c":69542,"s":"Decline"},
{"t":"21, 01:00","o":69601,"h":69615,"l":69530,"c":69542,"s":"Decline"},
{"t":"21, 01:05","o":69572,"h":69765,"l":69560,"c":69750,"s":"Supercharts"},
{"t":"21, 01:10","o":69780,"h":70075,"l":69770,"c":70059,"s":"Supercharts"},
{"t":"21, 01:15","o":70047,"h":70565,"l":70035,"c":70551,"s":"Supercharts"},
{"t":"21, 01:20","o":70421,"h":71335,"l":70410,"c":71322,"s":"Supercharts"},
{"t":"21, 01:25","o":70848,"h":71648,"l":70840,"c":71458,"s":"Supercharts"},
{"t":"21, 01:30","o":71203,"h":71500,"l":71190,"c":71452,"s":"Supercharts"},
{"t":"21, 01:35","o":71215,"h":71530,"l":71205,"c":71518,"s":"Supercharts"},
{"t":"21, 01:40","o":71470,"h":71490,"l":71370,"c":71381,"s":"Decline"},
{"t":"21, 01:45","o":71441,"h":71455,"l":71360,"c":71381,"s":"Decline"},
{"t":"21, 01:50","o":71322,"h":71465,"l":71300,"c":71452,"s":"Supercharts"},
{"t":"21, 01:55","o":71352,"h":71500,"l":71310,"c":71470,"s":"Supercharts"},
{"t":"21, 02:00","o":71470,"h":71490,"l":71370,"c":71381,"s":"Decline"},
{"t":"21, 02:05","o":71399,"h":71415,"l":71220,"c":71233,"s":"Decline"},
{"t":"21, 02:10","o":71393,"h":71405,"l":71115,"c":71203,"s":"Decline"},
{"t":"21, 02:15","o":71263,"h":72105,"l":71250,"c":71767,"s":"Supercharts"},
{"t":"21, 02:20","o":71784,"h":71800,"l":71515,"c":71530,"s":"Decline"},
{"t":"21, 02:25","o":71666,"h":71680,"l":71400,"c":71411,"s":"Decline"},
{"t":"21, 02:30","o":71500,"h":71515,"l":71395,"c":71411,"s":"Decline"},
{"t":"21, 02:35","o":71452,"h":71470,"l":71295,"c":71310,"s":"Decline"},
{"t":"21, 02:40","o":71411,"h":71425,"l":71250,"c":71263,"s":"Decline"},
{"t":"21, 02:45","o":71292,"h":71500,"l":71280,"c":71488,"s":"Supercharts"},
{"t":"21, 02:50","o":71470,"h":71485,"l":71320,"c":71334,"s":"Decline"},
{"t":"21, 02:55","o":71174,"h":71340,"l":71160,"c":71322,"s":"Supercharts"},
{"t":"21, 03:00","o":71322,"h":71335,"l":71220,"c":71233,"s":"Decline"},
{"t":"21, 03:05","o":71251,"h":71265,"l":71160,"c":71174,"s":"Decline"},
{"t":"21, 03:10","o":71245,"h":71260,"l":71060,"c":71073,"s":"Decline"},
{"t":"21, 03:15","o":70978,"h":71130,"l":70965,"c":71114,"s":"Supercharts"},
{"t":"21, 03:20","o":71114,"h":71130,"l":70760,"c":70776,"s":"Decline"},
{"t":"21, 03:25","o":70759,"h":71352,"l":70730,"c":71055,"s":"Supercharts"},
{"t":"21, 03:30","o":70877,"h":71070,"l":70865,"c":71055,"s":"Supercharts"},
{"t":"21, 03:35","o":70978,"h":71090,"l":70965,"c":71073,"s":"Supercharts"},
{"t":"21, 03:40","o":70978,"h":71170,"l":70965,"c":71156,"s":"Supercharts"},
{"t":"21, 03:45","o":70996,"h":71085,"l":70985,"c":71073,"s":"Supercharts"},
{"t":"21, 03:50","o":71014,"h":71140,"l":71000,"c":71126,"s":"Supercharts"},
{"t":"21, 03:55","o":71114,"h":71263,"l":71040,"c":71055,"s":"Decline"},
{"t":"21, 04:00","o":71102,"h":71115,"l":71025,"c":71037,"s":"Decline"},
{"t":"21, 04:05","o":71055,"h":71070,"l":70890,"c":70907,"s":"Decline"},
{"t":"21, 04:10","o":70930,"h":71050,"l":70915,"c":71037,"s":"Supercharts"},
{"t":"21, 04:15","o":71055,"h":71070,"l":70950,"c":70966,"s":"Decline"},
{"t":"21, 04:20","o":70936,"h":71010,"l":70925,"c":70996,"s":"Supercharts"},
{"t":"21, 04:25","o":71014,"h":71030,"l":70940,"c":70954,"s":"Decline"},
{"t":"21, 04:30","o":70954,"h":71200,"l":70940,"c":71186,"s":"Supercharts"},
{"t":"21, 04:35","o":71144,"h":71240,"l":71130,"c":71203,"s":"Supercharts"},
{"t":"21, 04:40","o":71174,"h":71440,"l":71160,"c":71322,"s":"Supercharts"},
{"t":"21, 04:45","o":71310,"h":71325,"l":71160,"c":71174,"s":"Decline"},
{"t":"21, 04:50","o":71203,"h":71335,"l":71190,"c":71322,"s":"Supercharts"},
{"t":"21, 04:55","o":71203,"h":71370,"l":71190,"c":71352,"s":"Supercharts"},
{"t":"21, 05:00","o":71322,"h":71340,"l":71190,"c":71203,"s":"Decline"},
{"t":"21, 05:05","o":71292,"h":71305,"l":71220,"c":71233,"s":"Decline"},
{"t":"21, 05:10","o":71245,"h":71305,"l":71235,"c":71292,"s":"Supercharts"},
{"t":"21, 05:15","o":71292,"h":71305,"l":71220,"c":71233,"s":"Decline"},
{"t":"21, 05:20","o":71233,"h":71325,"l":71220,"c":71310,"s":"Supercharts"},
{"t":"21, 05:25","o":71233,"h":71335,"l":71220,"c":71322,"s":"Supercharts"},
{"t":"21, 05:30","o":71263,"h":71365,"l":71250,"c":71352,"s":"Supercharts"},
{"t":"21, 05:35","o":71352,"h":71365,"l":71144,"c":71203,"s":"Decline"},
{"t":"21, 05:40","o":71352,"h":71365,"l":71220,"c":71233,"s":"Decline"},
{"t":"21, 05:45","o":71322,"h":71411,"l":71310,"c":71381,"s":"Supercharts"},
{"t":"21, 05:50","o":71369,"h":71385,"l":71295,"c":71310,"s":"Decline"},
{"t":"21, 05:55","o":71352,"h":71365,"l":71280,"c":71292,"s":"Decline"},
{"t":"21, 06:00","o":71322,"h":71335,"l":71240,"c":71251,"s":"Decline"},
{"t":"21, 06:05","o":71274,"h":71285,"l":71200,"c":71215,"s":"Decline"},
{"t":"21, 06:10","o":71233,"h":71245,"l":71130,"c":71144,"s":"Decline"},
{"t":"21, 06:15","o":71174,"h":71190,"l":71100,"c":71114,"s":"Decline"},
{"t":"21, 06:20","o":71144,"h":71155,"l":71090,"c":71102,"s":"Decline"},
{"t":"21, 06:25","o":71114,"h":71125,"l":71040,"c":71055,"s":"Decline"},
{"t":"21, 06:30","o":71025,"h":71140,"l":71010,"c":71114,"s":"Supercharts"},
{"t":"21, 06:35","o":71055,"h":71150,"l":71040,"c":71126,"s":"Supercharts"},
{"t":"21, 06:40","o":71114,"h":71130,"l":71000,"c":71014,"s":"Decline"},
{"t":"21, 06:45","o":71025,"h":71040,"l":70950,"c":70966,"s":"Decline"},
{"t":"21, 06:50","o":70996,"h":71010,"l":70910,"c":70925,"s":"Decline"},
{"t":"21, 06:55","o":70966,"h":70980,"l":70860,"c":70877,"s":"Decline"},
{"t":"21, 07:00","o":70859,"h":70970,"l":70845,"c":70954,"s":"Supercharts"},
{"t":"21, 07:05","o":70954,"h":70965,"l":70850,"c":70865,"s":"Decline"},
{"t":"21, 07:10","o":71067,"h":71085,"l":70860,"c":70877,"s":"Decline"},
{"t":"21, 07:15","o":70877,"h":70990,"l":70865,"c":70978,"s":"Supercharts"},
{"t":"21, 07:20","o":70907,"h":71010,"l":70895,"c":70996,"s":"Supercharts"},
{"t":"21, 07:25","o":70936,"h":71040,"l":70925,"c":71025,"s":"Supercharts"},
{"t":"21, 07:30","o":71014,"h":71030,"l":70925,"c":70936,"s":"Decline"},
{"t":"21, 07:35","o":70954,"h":71080,"l":70940,"c":71067,"s":"Supercharts"},
{"t":"21, 07:40","o":71037,"h":71130,"l":71025,"c":71114,"s":"Supercharts"},
{"t":"21, 07:45","o":71037,"h":71250,"l":71025,"c":71233,"s":"Supercharts"},
{"t":"21, 07:50","o":71144,"h":71260,"l":71130,"c":71245,"s":"Supercharts"},
{"t":"21, 07:55","o":71245,"h":71260,"l":71190,"c":71203,"s":"Decline"},
{"t":"21, 08:00","o":71245,"h":71260,"l":71190,"c":71203,"s":"Decline"},
{"t":"21, 08:05","o":71174,"h":71290,"l":71160,"c":71274,"s":"Supercharts"},
{"t":"21, 08:10","o":71274,"h":71290,"l":71160,"c":71174,"s":"Decline"},
{"t":"21, 08:15","o":71174,"h":71290,"l":71160,"c":71274,"s":"Supercharts"},
{"t":"21, 08:20","o":71251,"h":71265,"l":71150,"c":71174,"s":"Decline"},
{"t":"21, 08:25","o":71203,"h":71305,"l":71190,"c":71292,"s":"Supercharts"},
{"t":"21, 08:30","o":71221,"h":71305,"l":71210,"c":71292,"s":"Supercharts"},
{"t":"21, 08:35","o":71263,"h":71340,"l":71250,"c":71322,"s":"Supercharts"},
{"t":"21, 08:40","o":71292,"h":71415,"l":71280,"c":71399,"s":"Supercharts"},
{"t":"21, 08:45","o":71411,"h":71440,"l":71310,"c":71322,"s":"Decline"},
{"t":"21, 08:50","o":71340,"h":71355,"l":71190,"c":71203,"s":"Decline"},
{"t":"21, 08:55","o":71263,"h":71275,"l":71180,"c":71191,"s":"Decline"},
{"t":"21, 09:00","o":71174,"h":71275,"l":71160,"c":71263,"s":"Supercharts"}
],"format":{"parse":{"t":"date:'%d, %H:%M'"}}},
"layer":[
{"mark":{"type":"rule","strokeWidth":1.3},
"encoding":{"x":{"field":"t","type":"temporal"},"y":{"field":"l","type":"quantitative"},"y2":{"field":"h"},"color":{"field":"s","type":"nominal"}}},
{"mark":{"type":"rect","width":2.4,"strokeWidth":0},
"encoding":{"x":{"field":"t","type":"temporal"},"y":{"field":"o","type":"quantitative"},"y2":{"field":"c"},"color":{"field":"s","type":"nominal"}}}
]},
{"data":{"values":[{"t":"21, 07:40","p":64409,"name":"coinglass"}],"format":{"parse":{"t":"date:'%d, %H:%M'"}}},
"mark":{"type":"text","font":"Lato","fontWeight":"bold","fontSize":17,"color":"#ffffff","opacity":0.38},
"encoding":{"x":{"field":"t","type":"temporal"},"y":{"field":"p","type":"quantitative"},"text":{"field":"name"}}},
{"data":{"values":[{"t":"21, 06:21","p":64409}],"format":{"parse":{"t":"date:'%d, %H:%M'"}}},
"mark":{"type":"point","filled":true,"size":484,"color":"#ffffff","opacity":0.38,"strokeWidth":0,"shape":"M-1,-0.95L-0.55,-0.65L-0.3,-0.85L0.3,-0.85L0.55,-0.65L1,-0.95L1,-0.4L0.6,-0.15L0.55,0.3L0.45,0.55L0.6,1L-0.6,1L-0.45,0.55L-0.55,0.3L-0.6,-0.15L-1,-0.4Z"},
"encoding":{"x":{"field":"t","type":"temporal"},"y":{"field":"p","type":"quantitative"}}}
]},
{"width":966,"height":59,"layer":[
{"data":{"values":[{"start":"20, 09:07","end":"21, 09:06"}],"format":{"parse":{"start":"date:'%d, %H:%M'","end":"date:'%d, %H:%M'"}}},
"mark":{"type":"rect","color":"#e8ebf9","strokeWidth":0},
"encoding":{"x":{"field":"start","type":"temporal","scale":{"domain":[{"year":1900,"month":1,"date":20,"hours":9,"minutes":2,"seconds":30},{"year":1900,"month":1,"date":21,"hours":9,"minutes":5,"seconds":30}]},
"axis":{"orient":"top","title":null,"format":"%d, %H:%M","ticks":false,"domain":false,"grid":false,"labelFontSize":12,"labelColor":"#111","labelPadding":-9,"labelOverlap":false,"labelFlush":false,"labelBound":false,"zindex":2,"values":[{"year":1900,"month":1,"date":20,"hours":9,"minutes":5},{"year":1900,"month":1,"date":20,"hours":10,"minutes":40},{"year":1900,"month":1,"date":20,"hours":12,"minutes":15},{"year":1900,"month":1,"date":20,"hours":13,"minutes":50},{"year":1900,"month":1,"date":20,"hours":15,"minutes":25},{"year":1900,"month":1,"date":20,"hours":17,"minutes":0},{"year":1900,"month":1,"date":20,"hours":18,"minutes":35},{"year":1900,"month":1,"date":20,"hours":20,"minutes":10},{"year":1900,"month":1,"date":20,"hours":21,"minutes":45},{"year":1900,"month":1,"date":20,"hours":23,"minutes":20},{"year":1900,"month":1,"date":21,"hours":0,"minutes":55},{"year":1900,"month":1,"date":21,"hours":2,"minutes":30},{"year":1900,"month":1,"date":21,"hours":4,"minutes":5},{"year":1900,"month":1,"date":21,"hours":5,"minutes":40},{"year":1900,"month":1,"date":21,"hours":7,"minutes":15},{"year":1900,"month":1,"date":21,"hours":8,"minutes":50}]}},"x2":{"field":"end"}}},
{"data":{"values":[{"t":"20, 09:07","c":66575},{"t":"20, 09:25","c":66650},{"t":"20, 09:45","c":66783},{"t":"20, 10:05","c":66901},{"t":"20, 10:25","c":66901},{"t":"20, 10:45","c":66812},{"t":"20, 11:05","c":66901},{"t":"20, 11:25","c":66919},{"t":"20, 11:45","c":66860},{"t":"20, 12:05","c":67079},{"t":"20, 12:25","c":67067},{"t":"20, 12:45","c":67168},{"t":"20, 13:05","c":67198},{"t":"20, 13:25","c":67227},{"t":"20, 13:45","c":67020},{"t":"20, 14:05","c":67032},{"t":"20, 14:25","c":66854},{"t":"20, 14:45","c":66872},{"t":"20, 15:05","c":66990},{"t":"20, 15:25","c":66949},{"t":"20, 15:45","c":66884},{"t":"20, 16:05","c":66961},{"t":"20, 16:25","c":66801},{"t":"20, 16:45","c":66783},{"t":"20, 17:05","c":66901},{"t":"20, 17:25","c":67198},{"t":"20, 17:45","c":67257},{"t":"20, 18:05","c":67585},{"t":"20, 18:25","c":67792},{"t":"20, 18:45","c":68089},{"t":"20, 19:05","c":68089},{"t":"20, 19:25","c":68267},{"t":"20, 19:45","c":68148},{"t":"20, 20:05","c":68285},{"t":"20, 20:25","c":68237},{"t":"20, 20:45","c":68545},{"t":"20, 21:05","c":68652},{"t":"20, 21:25","c":69127},{"t":"20, 21:45","c":69631},{"t":"20, 22:05","c":69809},{"t":"20, 22:25","c":69482},{"t":"20, 22:45","c":69364},{"t":"20, 23:05","c":69008},{"t":"20, 23:25","c":69038},{"t":"20, 23:45","c":69216},{"t":"21, 00:05","c":69500},{"t":"21, 00:25","c":69631},{"t":"21, 00:45","c":69631},{"t":"21, 01:05","c":69750},{"t":"21, 01:25","c":71458},{"t":"21, 01:45","c":71381},{"t":"21, 02:05","c":71233},{"t":"21, 02:25","c":71411},{"t":"21, 02:45","c":71488},{"t":"21, 03:05","c":71174},{"t":"21, 03:25","c":71055},{"t":"21, 03:45","c":71073},{"t":"21, 04:05","c":70907},{"t":"21, 04:25","c":70954},{"t":"21, 04:45","c":71174},{"t":"21, 05:05","c":71233},{"t":"21, 05:25","c":71322},{"t":"21, 05:45","c":71381},{"t":"21, 06:05","c":71215},{"t":"21, 06:25","c":71055},{"t":"21, 06:45","c":70966},{"t":"21, 07:05","c":70865},{"t":"21, 07:25","c":71025},{"t":"21, 07:45","c":71233},{"t":"21, 08:05","c":71274},{"t":"21, 08:25","c":71292},{"t":"21, 08:45","c":71322},{"t":"21, 09:06","c":71263}],"format":{"parse":{"t":"date:'%d, %H:%M'"}}},
"mark":{"type":"area","color":"#d5dcf9","line":{"color":"#b8c6fa","strokeWidth":1}},
"encoding":{"x":{"field":"t","type":"temporal"},"y":{"field":"c","type":"quantitative","axis":null,"scale":{"domain":[64200,75550],"nice":false,"zero":false}},"y2":{"datum":64200}}},
{"data":{"values":[{"t":"20, 09:07"},{"t":"21, 09:04"}],"format":{"parse":{"t":"date:'%d, %H:%M'"}}},
"mark":{"type":"rect","width":16,"height":18,"cornerRadius":5,"color":"#353a50"},
"encoding":{"x":{"field":"t","type":"temporal"},"y":{"datum":69777,"type":"quantitative"}}},
{"data":{"values":[{"t":"20, 09:07","g":"II"},{"t":"21, 09:04","g":"II"}],"format":{"parse":{"t":"date:'%d, %H:%M'"}}},
"mark":{"type":"text","fontSize":9,"color":"#a4a9bd","fontWeight":"bold"},
"encoding":{"x":{"field":"t","type":"temporal"},"y":{"datum":69777,"type":"quantitative"},"text":{"field":"g"}}},
{"data":{"values":[{"t":"21, 10:04","k":"button"}],"format":{"parse":{"t":"date:'%d, %H:%M'"}}},
"mark":{"type":"rect","width":32,"height":32,"cornerRadius":6,"color":"#f2f4f7"},
"encoding":{"x":{"field":"t","type":"temporal"},"y":{"datum":68815,"type":"quantitative"}}},
{"data":{"values":[{"t":"21, 10:04","k":"chevron"}],"format":{"parse":{"t":"date:'%d, %H:%M'"}}},
"mark":{"type":"point","filled":false,"size":110,"color":"#3a3f4a","strokeWidth":2,"opacity":1,"shape":"M-1,0.5L0,-0.5L1,0.5"},
"encoding":{"x":{"field":"t","type":"temporal"},"y":{"datum":68815,"type":"quantitative"}}}
]}
]}
]}
